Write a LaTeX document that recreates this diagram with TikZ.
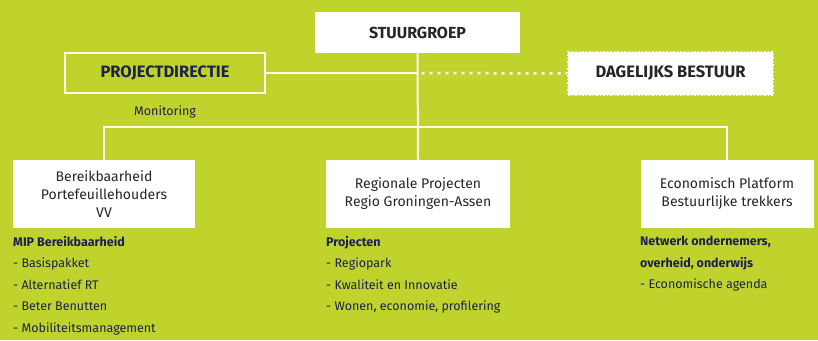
\documentclass[tikz,border=0pt]{standalone}
\usepackage{fontspec}
\setmainfont{Fira Sans}
\usetikzlibrary{positioning}
\definecolor{lime}{RGB}{192,211,45}
\definecolor{navy}{RGB}{28,32,82}
\definecolor{ink}{RGB}{38,38,38}
\definecolor{chalk}{RGB}{250,250,232}
\begin{document}
\begin{tikzpicture}[x=1pt,y=-1pt,
    topbox/.style={fill=white,text=ink,inner sep=0pt,font=\fontsize{16.5}{18}\selectfont\bfseries},
    unitbox/.style={fill=white,text=ink,align=center,minimum height=68pt,inner sep=0pt,font=\fontsize{14}{18}\selectfont},
    wire/.style={chalk,line width=2pt},
    tasks/.style={anchor=north west,align=left,inner sep=0pt,text=navy,font=\fontsize{12.5}{21.5}\selectfont}]
  \fill[lime] (0,0) rectangle (818,340);
  \useasboundingbox (0,0) rectangle (818,340);

  % top level
  \node[topbox,minimum width=205pt,minimum height=41pt,font=\fontsize{16}{18}\selectfont\bfseries] (sg) at (417.5,32.5) {STUURGROEP};
  \node[topbox,fill=none,draw=chalk,line width=2pt,minimum width=200pt,minimum height=40pt,text=navy] (pd) at (165,73) {PROJECTDIRECTIE};
  \node[topbox,draw=white,dotted,line width=1.5pt,minimum width=205pt,minimum height=43pt] (db) at (670.5,73.5) {DAGELIJKS BESTUUR};
  \node[text=navy,font=\fontsize{12.5}{14}\selectfont] (mon) at (165,112) {Monitoring};

  % units
  \node[unitbox,minimum width=182pt] (vv) at (104,194) {Bereikbaarheid\\Portefeuillehouders\\VV};
  \node[unitbox,minimum width=184pt] (rp) at (418,194) {Regionale Projecten\\Regio Groningen-Assen};
  \node[unitbox,minimum width=173pt] (ep) at (727,194) {Economisch Platform\\Bestuurlijke trekkers};

  % lines
  \coordinate (bar) at (0,127);
  \draw[wire] (sg.south) -- (rp.north);
  \draw[wire] (vv.north) -- (vv.north |- bar) -- (ep.north |- bar) -- (ep.north);
  \draw[wire] (pd.east) -- (pd.east -| sg.south);
  \draw[chalk,line width=2.5pt,dash pattern=on 3pt off 5pt] (pd.east -| sg.south) ++(4,0) -- (db.west);

  % task lists
  \node[tasks] (vvlist) at (13,236) {\textbf{MIP Bereikbaarheid}\\- Basispakket\\- Alternatief RT\\- Beter Benutten\\- Mobiliteitsmanagement};
  \node[tasks] (rplist) at (326,236) {\textbf{Projecten}\\- Regiopark\\- Kwaliteit en Innovatie\\- Wonen, economie, profilering};
  \node[tasks] (eplist) at (640,236) {\textbf{Netwerk ondernemers,}\\\textbf{overheid, onderwijs}\\- Economische agenda};
\end{tikzpicture}
\end{document}
